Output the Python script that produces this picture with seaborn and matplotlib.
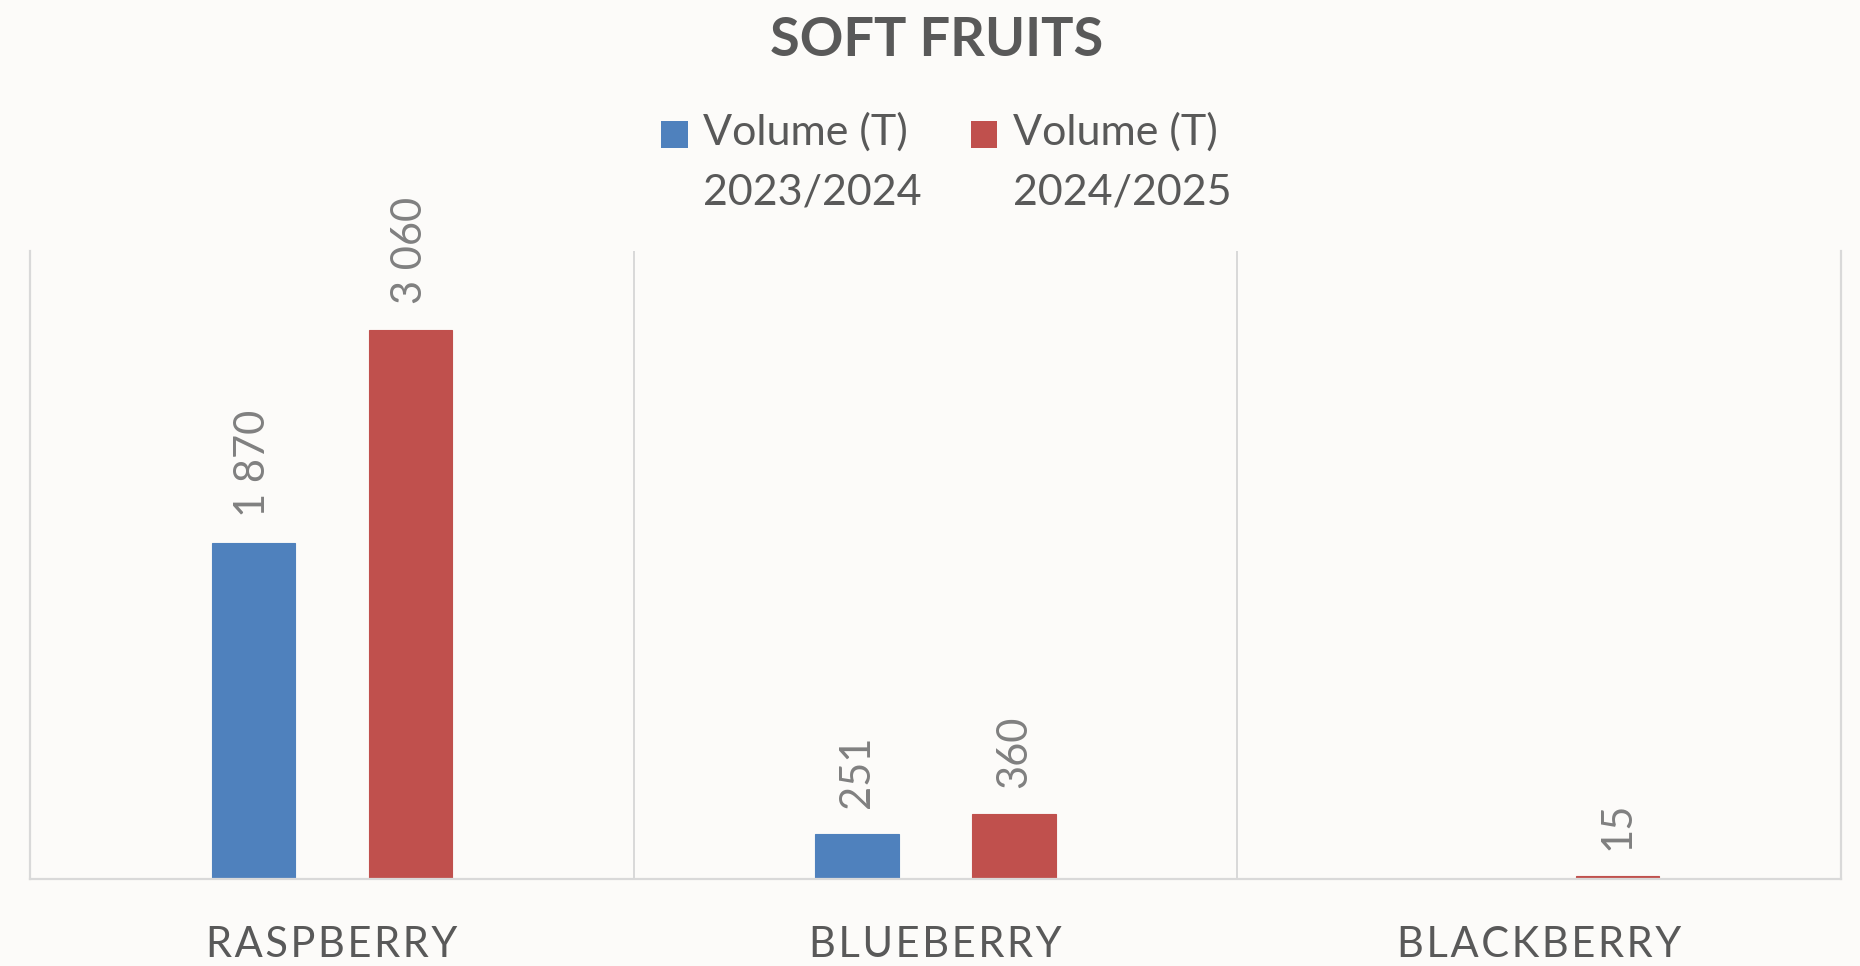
import numpy as np
import pandas as pd
import seaborn as sns
import matplotlib
matplotlib.use("Agg")
import matplotlib.pyplot as plt
from matplotlib.patches import Patch, Rectangle
from matplotlib.legend_handler import HandlerPatch

# ---- data ----
fruits = ["RASPBERRY", "BLUEBERRY", "BLACKBERRY"]
seasons = ["Volume (T)\n2023/2024", "Volume (T)\n2024/2025"]
vol_2023_2024 = [1870, 251, np.nan]
vol_2024_2025 = [3060, 360, 15]
title = "SOFT FRUITS"

colors = ["#4F81BD", "#C0504D"]
bg = "#FCFBF9"
grid_c = "#D9D9D9"
text_c = "#595959"
label_c = "#808080"

df = pd.DataFrame({
    "fruit": fruits * 2,
    "season": [seasons[0]] * 3 + [seasons[1]] * 3,
    "volume": vol_2023_2024 + vol_2024_2025,
})

sns.set_theme(style="white")
plt.rcParams["font.family"] = ["Lato", "DejaVu Sans"]

fig = plt.figure(figsize=(18.6, 9.66), dpi=100, facecolor=bg)
ax = fig.add_axes([30 / 1860, 1 - 879 / 966, (1841 - 30) / 1860, (879 - 251) / 966])
ax.set_facecolor(bg)

sns.barplot(data=df, x="fruit", y="volume", hue="season", hue_order=seasons,
            order=fruits, palette=colors, width=0.52, gap=0.47, saturation=1,
            errorbar=None, ax=ax, legend=False)

# thin matching edge so very small bars stay visible
for cont, c in zip(ax.containers, colors):
    for p in cont:
        p.set_edgecolor(c)
        p.set_linewidth(0.8)

ax.set_xlim(-0.5, 2.5)
ax.set_ylim(0, 3500)
ax.set_yticks([])
ax.set_xlabel("")
ax.set_ylabel("")

for s in ["left", "right", "bottom"]:
    ax.spines[s].set_visible(True)
    ax.spines[s].set_color(grid_c)
    ax.spines[s].set_linewidth(1.6)
ax.spines["top"].set_visible(False)
for xv in [0.5, 1.5]:
    ax.axvline(xv, color=grid_c, lw=1.4, zorder=0)

# spaced category labels
spaced = ["\u200a".join(list(f)) for f in fruits]
ax.set_xticks(range(len(fruits)))
ax.set_xticklabels(spaced, fontsize=30, color=text_c)
ax.tick_params(axis="x", length=0, pad=34)


def fmt(v):
    if v is None or np.isnan(v) or v == 0:
        return ""
    return f"{v:,.0f}".replace(",", " ")


for cont in ax.containers:
    ax.bar_label(cont, fmt=fmt, rotation=90, padding=19, fontsize=30, color=label_c)

fig.text(937 / 1860, 1 - 40 / 966, title, ha="center", va="center",
         fontsize=39, fontweight="bold", color=text_c)


class TopSquare(HandlerPatch):
    def create_artists(self, legend, orig_handle, xdescent, ydescent, width,
                       height, fontsize, trans):
        sq = 0.62 * fontsize
        p = Rectangle((-xdescent, -ydescent + 0.69 * fontsize), sq, sq,
                      facecolor=orig_handle.get_facecolor(), edgecolor="none",
                      transform=trans)
        return [p]


handles = [Patch(facecolor=c) for c in colors]
leg = fig.legend(handles, seasons, loc="upper center",
                 bbox_to_anchor=(946 / 1860, 1 - 74 / 966), ncol=2,
                 frameon=False, fontsize=31, handlelength=0.62,
                 handletextpad=0.35, columnspacing=1.15,
                 handler_map={Patch: TopSquare()})
for t in leg.get_texts():
    t.set_color(text_c)
    t.set_linespacing(1.7)

fig.savefig("out.png", dpi=100, facecolor=bg)
